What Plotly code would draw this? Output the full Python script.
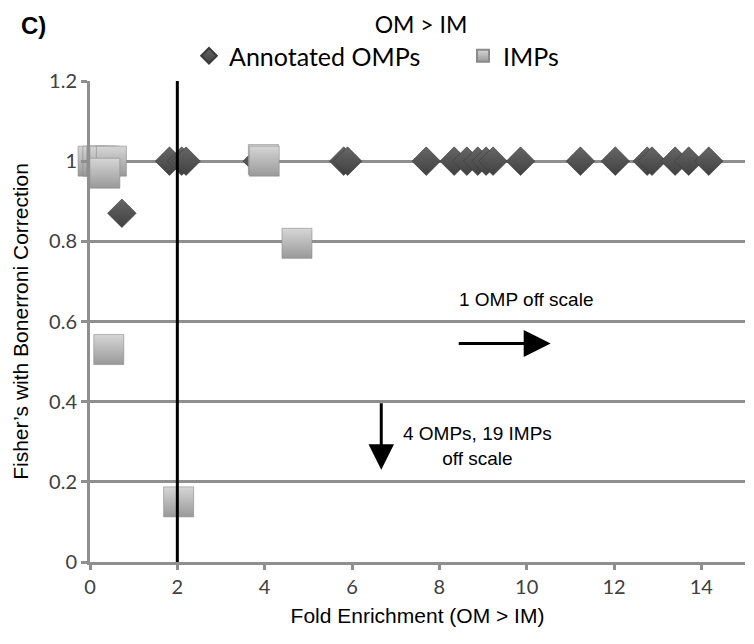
import plotly.graph_objects as go

# ---- data ----
omp_x = [0.73, 1.82, 2.10, 2.20, 3.83, 5.81, 5.90, 7.70, 8.34, 8.63, 8.88, 9.07, 9.23,
         9.86, 11.23, 12.03, 12.76, 12.87, 13.40, 13.71, 14.17]
omp_y = [0.87, 1.0, 1.0, 1.0, 1.0, 1.0, 1.0, 1.0, 1.0, 1.0, 1.0, 1.0, 1.0,
         1.0, 1.0, 1.0, 1.0, 1.0, 1.0, 1.0, 1.0]

imp_x = [0.07, 0.18, 0.27, 0.34, 0.49, 0.34, 0.43, 2.03, 3.97, 3.99, 4.74]
imp_y = [1.0, 1.0, 1.0, 1.0, 1.0, 0.97, 0.53, 0.15, 1.004, 1.0, 0.795]

x_ticks = [0, 2, 4, 6, 8, 10, 12, 14]
y_ticks = [0, 0.2, 0.4, 0.6, 0.8, 1.0, 1.2]
y_tick_text = ["0", "0.2", "0.4", "0.6", "0.8", "1", "1.2"]

cutoff_x = 2
x_range = [0, 15]
y_range = [0, 1.2]

GRID = "#8f8f8f"
TICKFONT = dict(family="Lato, Open Sans, sans-serif", size=20, color="#404040")
ARIAL = "Liberation Sans, Arial, sans-serif"

# the page body adds an 8px offset, so the figure is 8px smaller than the window
W, H = 746, 636

fig = go.Figure()

fig.add_trace(go.Scatter(
    x=omp_x, y=omp_y, mode="markers", name="Annotated OMPs",
    cliponaxis=False,
    marker=dict(symbol="diamond", size=22, color="#666666",
                gradient=dict(type="vertical", color="#404040"),
                line=dict(width=0.6, color="#3a3a3a")),
))
fig.add_trace(go.Scatter(
    x=imp_x, y=imp_y, mode="markers", name="IMPs",
    cliponaxis=False,
    marker=dict(symbol="square", size=30, color="#d6d6d6",
                gradient=dict(type="vertical", color="#999999"),
                line=dict(width=0.6, color="#8a8a8a")),
))

# vertical 2-fold cut-off line
fig.add_shape(type="line", xref="x", yref="y", x0=cutoff_x, x1=cutoff_x,
              y0=y_range[0], y1=y_range[1], line=dict(color="black", width=3),
              layer="above")

annotations = [
    dict(text="<b>C)</b>", xref="paper", yref="paper", x=-0.0855, y=1.1164,
         xanchor="center", yanchor="middle",
         showarrow=False, font=dict(family=ARIAL, size=24, color="black")),
    dict(text="1 OMP off scale", xref="x", yref="y", x=9.98, y=0.655,
         xanchor="center", yanchor="middle",
         showarrow=False, font=dict(family=ARIAL, size=19, color="black")),
    dict(text="4 OMPs, 19 IMPs<br>off scale", xref="x", yref="y", x=8.88, y=0.29,
         xanchor="center", yanchor="middle",
         showarrow=False, font=dict(family=ARIAL, size=19, color="black")),
    # right arrow
    dict(text="", xref="x", yref="y", x=10.55, y=0.545, axref="x", ayref="y",
         ax=8.41, ay=0.545, showarrow=True, arrowhead=2, arrowsize=1.8,
         arrowwidth=3, arrowcolor="black"),
    # down arrow
    dict(text="", xref="x", yref="y", x=6.67, y=0.23, axref="x", ayref="y",
         ax=6.67, ay=0.40, showarrow=True, arrowhead=2, arrowsize=1.7,
         arrowwidth=3, arrowcolor="black"),
]

fig.update_layout(
    width=W, height=H,
    margin=dict(l=82, r=9, t=73, b=82, autoexpand=False),
    paper_bgcolor="white", plot_bgcolor="white",
    title=dict(text="OM > IM", x=0.5537, xanchor="center", y=1 - 17 / H,
               yanchor="middle",
               font=dict(family="Lato, Open Sans, sans-serif", size=23, color="black")),
    showlegend=True,
    legend=dict(orientation="h", xref="container", yref="container",
                x=181 / W, xanchor="left", y=1 - 48 / H, yanchor="middle",
                font=dict(family="Lato, Open Sans, sans-serif", size=25, color="black"),
                entrywidth=229, entrywidthmode="pixels",
                bgcolor="rgba(0,0,0,0)", itemsizing="constant"),
    annotations=annotations,
    xaxis=dict(range=x_range, tickvals=x_ticks, showgrid=False, zeroline=False,
               automargin=False,
               showline=True, linecolor=GRID, linewidth=3,
               ticks="outside", ticklen=5, tickwidth=3, tickcolor=GRID,
               tickfont=TICKFONT,
               title=dict(text="Fold Enrichment (OM > IM)", standoff=12,
                          font=dict(family=ARIAL, size=21, color="black"))),
    yaxis=dict(range=y_range, tickvals=y_ticks, ticktext=y_tick_text,
               automargin=False,
               showgrid=True, gridcolor=GRID, gridwidth=3, zeroline=False,
               showline=True, linecolor=GRID, linewidth=3,
               ticks="outside", ticklen=6, tickwidth=3, tickcolor=GRID,
               tickfont=TICKFONT,
               title=dict(text="Fisher\u2019s with Bonerroni Correction", standoff=15,
                          font=dict(family=ARIAL, size=21, color="black"))),
)

fig.write_html("out.html")
